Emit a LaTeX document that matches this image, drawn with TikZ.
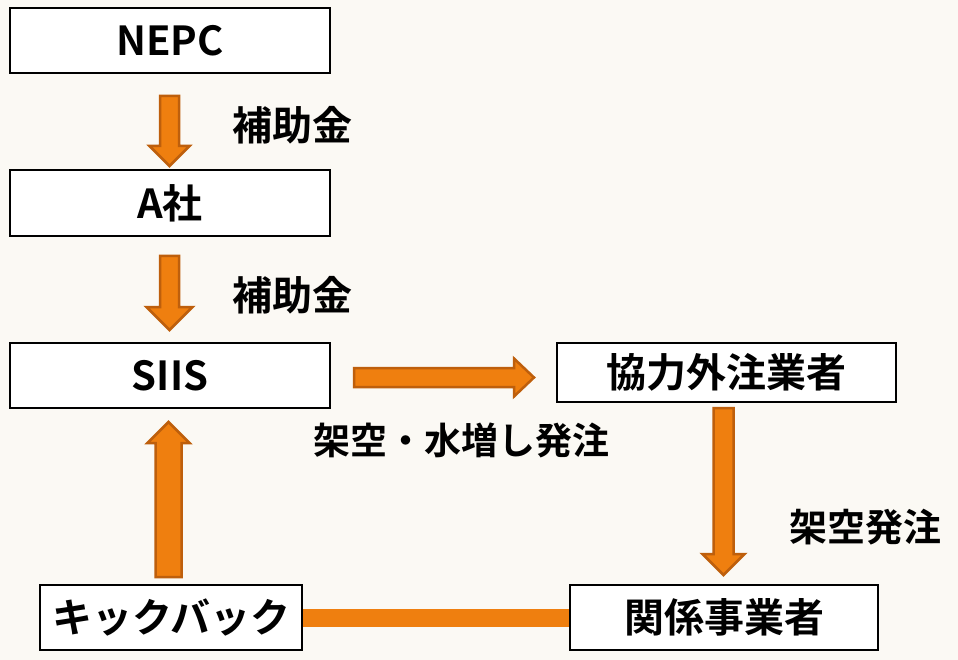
\documentclass[tikz,border=0pt]{standalone}
\usepackage{fontspec}
\setmainfont{Noto Sans CJK JP}[BoldFont={* Bold}]
\usetikzlibrary{calc}
\definecolor{bg}{HTML}{FBF9F4}
\definecolor{arrfill}{HTML}{EF7F0F}
\definecolor{arrline}{HTML}{BE5F0C}
\tikzset{
  box/.style={draw, line width=1.2pt, fill=white, font=\bfseries\fontsize{40}{42}\selectfont},
  label/.style={font=\bfseries\fontsize{40}{42}\selectfont},
  fat/.style={fill=arrfill, draw=arrline, line width=2.5pt, line join=miter},
}
% vertical fat arrow: start, end, shaft half, head half, signed head length
\newcommand\vfat[5]{%
  \draw[fat] let \p1=(#1), \p2=(#2) in
    (\x1-#3,\y1) -- (\x1+#3,\y1) -- (\x1+#3,\y2+#5) -- (\x1+#4,\y2+#5)
    -- (\x2,\y2) -- (\x1-#4,\y2+#5) -- (\x1-#3,\y2+#5) -- cycle;}
% horizontal fat arrow
\newcommand\hfat[5]{%
  \draw[fat] let \p1=(#1), \p2=(#2) in
    (\x1,\y1-#3) -- (\x1,\y1+#3) -- (\x2-#5,\y1+#3) -- (\x2-#5,\y1+#4)
    -- (\x2,\y2) -- (\x2-#5,\y1-#4) -- (\x2-#5,\y1-#3) -- cycle;}
\begin{document}
\begin{tikzpicture}[x=1pt, y=-1pt]
  \fill[bg] (0,0) rectangle (958,660);
  \useasboundingbox (0,0) rectangle (958,660);

  % boxes
  \node[box, minimum width=320pt, minimum height=65pt] (nepc) at (170,40.5) {NEPC};
  \node[box, minimum width=320pt, minimum height=66pt] (asha) at (170,203) {A社};
  \node[box, minimum width=320pt, minimum height=65pt] (siis) at (170,375.5) {SIIS};
  \node[box, minimum width=339pt, minimum height=59pt] (kyoryoku) at (726.5,372.5) {協力外注業者};
  \node[box, line width=2.5pt, minimum width=262pt, minimum height=65pt] (kick) at (171,617.5) {キックバック};
  \node[box, minimum width=308pt, minimum height=65pt] (kankei) at (724,617.5) {関係事業者};

  % arrow ends
  \coordinate (a1s) at (169.5,96);   \coordinate (a1e) at (169.5,166);
  \coordinate (a2s) at (169.5,256);  \coordinate (a2e) at (169.5,330);
  \coordinate (a3s) at (354,377.5);  \coordinate (a3e) at (534,377.5);
  \coordinate (a4s) at (168.5,577);  \coordinate (a4e) at (168.5,422);
  \coordinate (a5s) at (723.5,408);  \coordinate (a5e) at (723.5,575);

  \vfat{a1s}{a1e}{9.5pt}{20pt}{20pt}
  \vfat{a2s}{a2e}{9.5pt}{23pt}{23pt}
  \hfat{a3s}{a3e}{9.5pt}{19pt}{20pt}
  \vfat{a4s}{a4e}{13pt}{21pt}{-21pt}
  \vfat{a5s}{a5e}{10pt}{21pt}{21pt}

  \draw[arrfill, line width=18pt] (kick.east) -- (kankei.west);

  % labels
  \node[label] (l1) at (292,125) {補助金};
  \node[label] (l2) at (292,295) {補助金};
  \node[label, font=\bfseries\fontsize{37}{40}\selectfont] (l3) at (461,440) {架空・水増し発注};
  \node[label, font=\bfseries\fontsize{38}{40}\selectfont] (l4) at (865,527) {架空発注};
\end{tikzpicture}
\end{document}
